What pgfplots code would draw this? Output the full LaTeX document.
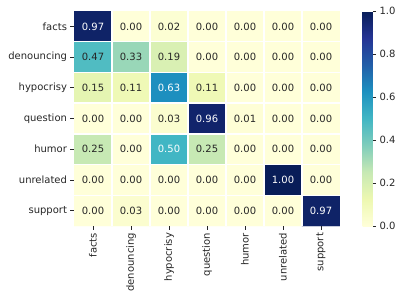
\documentclass[border=0pt]{standalone}
\usepackage{pgfplots}
\pgfplotsset{compat=1.18}
\usepackage{fontspec}
\setmainfont{DejaVu Sans}
\definecolor{txt}{HTML}{262626}
\pgfplotsset{
  colormap={ylgnbu}{rgb255=(255,255,217) rgb255=(237,248,177) rgb255=(199,233,180) rgb255=(127,205,187) rgb255=(65,182,196) rgb255=(29,145,192) rgb255=(34,94,168) rgb255=(37,52,148) rgb255=(8,29,88)}
}
\begin{document}
\begin{tikzpicture}
\useasboundingbox (0,0) rectangle (398pt,301pt);
\begin{axis}[
  at={(74pt,75pt)}, anchor=south west,
  scale only axis, width=266pt, height=215pt,
  xmin=-0.5, xmax=6.5, ymin=-0.5, ymax=6.5,
  colormap name=ylgnbu,
  point meta min=0, point meta max=1,
  xtick={0,...,6}, ytick={0,...,6},
  xticklabels={facts,denouncing,hypocrisy,question,humor,unrelated,support},
  yticklabels={support,unrelated,humor,question,hypocrisy,denouncing,facts},
  x tick label style={rotate=90, anchor=east, font=\fontsize{10}{12}\selectfont, text=txt},
  y tick label style={font=\fontsize{10}{12}\selectfont, text=txt},
  xtick pos=left, ytick pos=left,
  tick align=outside, major tick length=3.5pt,
  tick style={draw=txt, line width=0.8pt},
  minor xtick={0.5,1.5,...,5.5}, minor ytick={0.5,1.5,...,5.5},
  minor tick length=0pt,
  xminorgrids, yminorgrids,
  minor grid style={white, line width=1.5pt},
  axis line style={draw=none},
  axis on top,
  colorbar,
  colorbar style={
    width=10pt,
    at={(parent axis.north east)}, anchor=north west, xshift=14pt,
    xtick=\empty, minor xtick={}, minor ytick={},
    ytick={0,0.2,...,1},
    ytick pos=right, yticklabel pos=right,
    yticklabel={\pgfmathprintnumber[fixed,fixed zerofill,precision=1]{\tick}},
    yticklabel style={font=\fontsize{10}{12}\selectfont, text=txt, anchor=west},
    /pgf/number format/assume math mode=true,
    tick align=outside, major tick length=3.5pt,
    tick style={draw=txt, line width=0.8pt},
    axis line style={draw=none},
  },
]
\addplot[matrix plot*, mesh/cols=7, mesh/rows=7, point meta=explicit] table[meta=c] {
x y c
0 0 0.00
1 0 0.03
2 0 0.00
3 0 0.00
4 0 0.00
5 0 0.00
6 0 0.97
0 1 0.00
1 1 0.00
2 1 0.00
3 1 0.00
4 1 0.00
5 1 1.00
6 1 0.00
0 2 0.25
1 2 0.00
2 2 0.50
3 2 0.25
4 2 0.00
5 2 0.00
6 2 0.00
0 3 0.00
1 3 0.00
2 3 0.03
3 3 0.96
4 3 0.01
5 3 0.00
6 3 0.00
0 4 0.15
1 4 0.11
2 4 0.63
3 4 0.11
4 4 0.00
5 4 0.00
6 4 0.00
0 5 0.47
1 5 0.33
2 5 0.19
3 5 0.00
4 5 0.00
5 5 0.00
6 5 0.00
0 6 0.97
1 6 0.00
2 6 0.02
3 6 0.00
4 6 0.00
5 6 0.00
6 6 0.00
};
% dark labels
\addplot[only marks, mark=none, nodes near coords, point meta=explicit symbolic,
  nodes near coords align={center},
  every node near coord/.style={font=\fontsize{10}{12}\selectfont, text=txt, anchor=center}]
  table[meta=l] {
x y l
0 0 0.00
1 0 0.03
2 0 0.00
3 0 0.00
4 0 0.00
5 0 0.00
0 1 0.00
1 1 0.00
2 1 0.00
3 1 0.00
4 1 0.00
6 1 0.00
0 2 0.25
1 2 0.00
3 2 0.25
4 2 0.00
5 2 0.00
6 2 0.00
0 3 0.00
1 3 0.00
2 3 0.03
4 3 0.01
5 3 0.00
6 3 0.00
0 4 0.15
1 4 0.11
3 4 0.11
4 4 0.00
5 4 0.00
6 4 0.00
0 5 0.47
1 5 0.33
2 5 0.19
3 5 0.00
4 5 0.00
5 5 0.00
6 5 0.00
1 6 0.00
2 6 0.02
3 6 0.00
4 6 0.00
5 6 0.00
6 6 0.00
};
% light labels
\addplot[only marks, mark=none, nodes near coords, point meta=explicit symbolic,
  nodes near coords align={center},
  every node near coord/.style={font=\fontsize{10}{12}\selectfont, text=white, anchor=center}]
  table[meta=l] {
x y l
6 0 0.97
5 1 1.00
2 2 0.50
3 3 0.96
2 4 0.63
0 6 0.97
};
\end{axis}
\end{tikzpicture}
\end{document}
